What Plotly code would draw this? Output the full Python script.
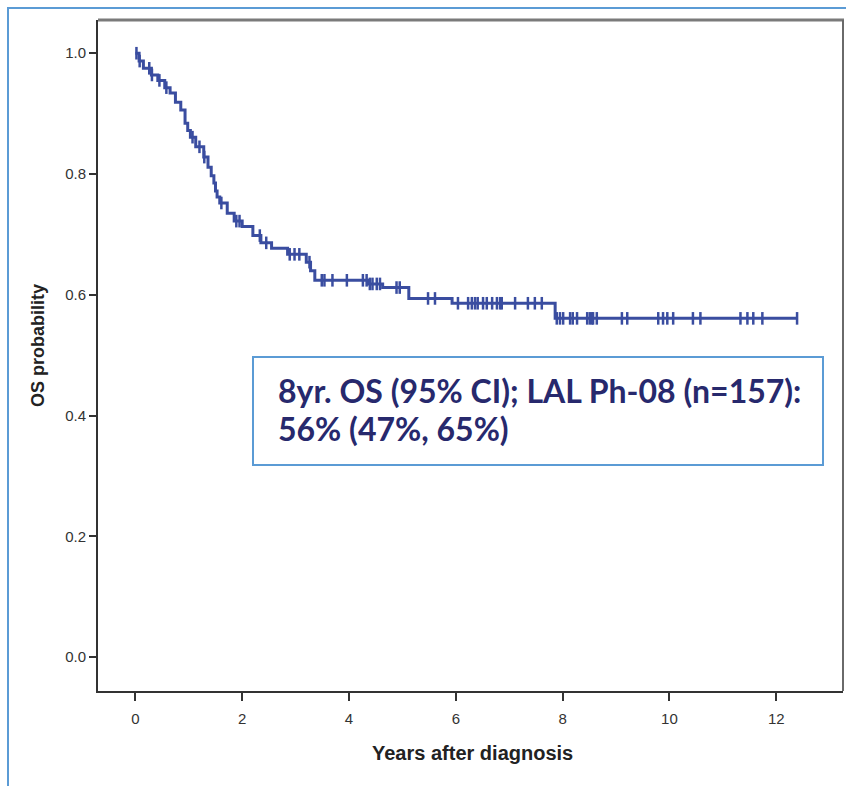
import numpy as np
import plotly.graph_objects as go

# ---- data ----
step_times = [0.00, 0.07, 0.15, 0.30, 0.42, 0.55, 0.65, 0.75, 0.85, 0.93, 0.98, 1.03,
              1.13, 1.28, 1.36, 1.42, 1.47, 1.50, 1.53, 1.58, 1.72, 1.85, 2.00, 2.20,
              2.35, 2.55, 2.85, 3.20, 3.28, 3.36, 4.35, 4.63, 5.12, 5.93, 7.86]
step_surv = [1.000, 0.987, 0.975, 0.964, 0.955, 0.943, 0.934, 0.919, 0.906, 0.884, 0.872, 0.861,
             0.845, 0.828, 0.811, 0.797, 0.785, 0.772, 0.762, 0.752, 0.735, 0.722, 0.713, 0.698,
             0.686, 0.677, 0.667, 0.654, 0.640, 0.624, 0.618, 0.612, 0.594, 0.586, 0.561]
end_time = 12.39
censor_times = [0.02, 0.08, 0.26, 0.31, 0.45, 0.58, 1.07, 1.20, 1.29, 1.61, 1.89, 1.95,
                2.33, 2.45, 2.89, 2.98, 3.07, 3.26, 3.49, 3.54, 3.69, 3.96, 4.26, 4.33,
                4.39, 4.44, 4.52, 4.58, 4.89, 4.95, 5.48, 5.61, 6.04, 6.23, 6.30, 6.36,
                6.41, 6.51, 6.58, 6.68, 6.77, 6.83, 6.86, 7.11, 7.35, 7.48, 7.61, 7.89,
                7.95, 8.01, 8.14, 8.19, 8.27, 8.46, 8.51, 8.55, 8.57, 8.64, 9.11, 9.21,
                9.79, 9.88, 9.96, 10.07, 10.44, 10.58, 11.33, 11.46, 11.57, 11.74, 12.39]
x_ticks = [0, 2, 4, 6, 8, 10, 12]
y_ticks = [0.0, 0.2, 0.4, 0.6, 0.8, 1.0]
y_ticktext = ["0.0", "0.2", "0.4", "0.6", "0.8", "1.0"]
x_title = "Years after diagnosis"
y_title = "OS probability"
box_lines = ["8yr. OS (95% CI); LAL Ph-08 (n=157):", "56% (47%, 65%)"]

# censor marks sit on the KM step function
st = np.array(step_times)
ss = np.array(step_surv)
ct = np.array(censor_times)
censor_surv = ss[np.searchsorted(st, ct, side="right") - 1]

W, H = 846, 786
L, R, T, B = 98, 843, 20, 691


def px(x):  # page x -> paper
    return (x - L) / (R - L)


def py(y):  # page y -> paper
    return (B - y) / (B - T)


curve_color = "#3a4da0"
fig = go.Figure()
fig.add_trace(go.Scatter(
    x=list(step_times) + [end_time], y=list(step_surv) + [step_surv[-1]],
    mode="lines", line=dict(shape="hv", color=curve_color, width=3),
    hoverinfo="skip", showlegend=False))
fig.add_trace(go.Scatter(
    x=ct, y=censor_surv, mode="markers",
    marker=dict(symbol="line-ns-open", size=9, color=curve_color,
                line=dict(color=curve_color, width=2.5)),
    showlegend=False))

tick_font = dict(family="Liberation Sans, Arial, sans-serif", size=15, color="#333333")
fig.update_layout(
    width=W, height=H, autosize=False,
    margin=dict(l=L, r=W - R, t=T, b=H - B, pad=0),
    paper_bgcolor="white", plot_bgcolor="white",
    xaxis=dict(range=[-0.70, 13.25], tickvals=x_ticks, ticks="outside", ticklen=8,
               tickwidth=2, tickcolor="#333333", showline=True, linecolor="#333333",
               linewidth=2, showgrid=False, zeroline=False, tickfont=tick_font,
               ticklabelstandoff=5),
    yaxis=dict(range=[-0.056, 1.055], tickvals=y_ticks, ticktext=y_ticktext,
               ticks="outside", ticklen=7, tickwidth=2, tickcolor="#333333",
               showline=True, linecolor="#333333", linewidth=2, showgrid=False,
               zeroline=False, tickfont=tick_font),
    shapes=[
        # top and right frame
        dict(type="line", xref="paper", yref="paper", x0=0, x1=px(844), y0=1, y1=1,
             line=dict(color="#7a7a7a", width=3)),
        dict(type="line", xref="paper", yref="paper", x0=1, x1=1, y0=0, y1=1,
             line=dict(color="#6a6a6a", width=2)),
        # outer blue border
        dict(type="rect", xref="paper", yref="paper", x0=px(8), x1=px(900), y0=py(8), y1=py(900),
             line=dict(color="#5b9bd5", width=2), fillcolor="rgba(0,0,0,0)", layer="above"),
        # annotation box
        dict(type="rect", xref="paper", yref="paper", x0=px(253), x1=px(823), y0=py(357), y1=py(465),
             line=dict(color="#5b9bd5", width=2), fillcolor="white", layer="above"),
    ],
    annotations=[
        dict(text=x_title, xref="paper", yref="paper", x=px(472), y=py(753),
             xanchor="center", yanchor="middle", showarrow=False,
             font=dict(family="Liberation Sans, Arial, sans-serif",
                       size=20, color="#222222", weight="bold")),
        dict(text=y_title, xref="paper", yref="paper", x=px(38), y=py(346), textangle=-90,
             xanchor="center", yanchor="middle", showarrow=False,
             font=dict(family="Liberation Sans, Arial, sans-serif", size=18, color="#222222",
                       weight="bold")),
        dict(text=box_lines[0], xref="paper", yref="paper", x=px(276), y=py(391),
             xanchor="left", yanchor="middle", align="left", showarrow=False,
             font=dict(family="Lato, sans-serif", size=32, color="#27296d", weight="bold")),
        dict(text=box_lines[1], xref="paper", yref="paper", x=px(276), y=py(429),
             xanchor="left", yanchor="middle", align="left", showarrow=False,
             font=dict(family="Lato, sans-serif", size=32, color="#27296d", weight="bold")),
    ],
)
fig.write_html("out.html", config={"displayModeBar": False},
               post_script="document.body.style.margin='0';")
